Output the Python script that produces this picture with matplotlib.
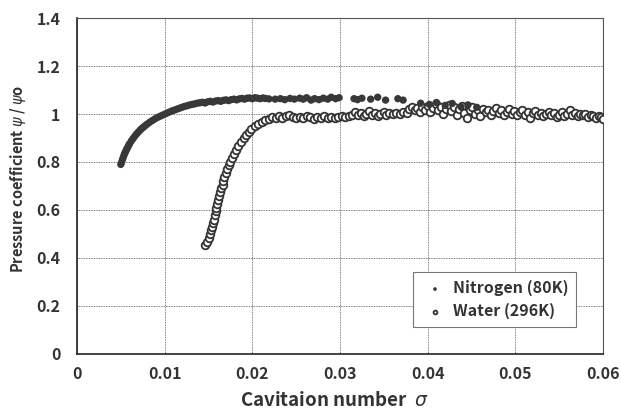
import matplotlib.pyplot as plt

plt.rcParams['font.family'] = ['Noto Sans CJK JP', 'DejaVu Sans']

# Nitrogen (80K) - filled markers
n2_sigma = [0.0050, 0.0051, 0.0052, 0.0053, 0.0054, 0.0055, 0.0056, 0.0057, 0.0058, 0.0059,
            0.0060, 0.0062, 0.0064, 0.0066, 0.0068, 0.0070, 0.0072, 0.0074, 0.0076, 0.0078,
            0.0080, 0.0083, 0.0086, 0.0089, 0.0092, 0.0095, 0.0098, 0.0101, 0.0104, 0.0107,
            0.0110, 0.0113, 0.0116, 0.0119, 0.0122, 0.0125, 0.0128, 0.0131, 0.0134, 0.0137,
            0.0140, 0.0143, 0.0146, 0.0149, 0.0152, 0.0155, 0.0158, 0.0161, 0.0164, 0.0167,
            0.0170, 0.0173, 0.0176, 0.0179, 0.0182, 0.0185, 0.0188, 0.0191, 0.0194, 0.0197,
            0.0200, 0.0203, 0.0206, 0.0209, 0.0212, 0.0215, 0.0219,
            0.0226, 0.0232, 0.0237, 0.0243, 0.0248, 0.0254, 0.0258, 0.0262, 0.0267, 0.0271,
            0.0276, 0.0281, 0.0286, 0.0290, 0.0295, 0.0299, 0.0316, 0.0320, 0.0325, 0.0335,
            0.0343, 0.0352, 0.0366, 0.0372, 0.0392, 0.0402, 0.0410, 0.0420, 0.0428, 0.0438,
            0.0446, 0.0456]
n2_psi = [0.790, 0.800, 0.812, 0.822, 0.832, 0.840, 0.848, 0.856, 0.862, 0.870,
          0.876, 0.888, 0.898, 0.908, 0.917, 0.925, 0.933, 0.940, 0.946, 0.952,
          0.958, 0.966, 0.973, 0.980, 0.986, 0.991, 0.996, 1.001, 1.006, 1.011,
          1.015, 1.019, 1.023, 1.027, 1.031, 1.034, 1.037, 1.040, 1.042, 1.045,
          1.047, 1.049, 1.046, 1.051, 1.053, 1.050, 1.054, 1.056, 1.053, 1.057,
          1.059, 1.056, 1.060, 1.062, 1.059, 1.063, 1.065, 1.062, 1.066, 1.067,
          1.064, 1.068, 1.066, 1.064, 1.067, 1.065, 1.063,
          1.062, 1.064, 1.060, 1.065, 1.062, 1.066, 1.062, 1.068, 1.058, 1.064,
          1.060, 1.066, 1.062, 1.070, 1.064, 1.068, 1.064, 1.060, 1.066, 1.062,
          1.070, 1.058, 1.064, 1.058, 1.045, 1.040, 1.048, 1.036, 1.044, 1.030,
          1.038, 1.028]

# Water (296K) - open markers
w_sigma = [0.0146, 0.0148, 0.0150, 0.0152, 0.0153, 0.0154, 0.0155, 0.0156, 0.0157, 0.0158,
           0.0159, 0.0160, 0.0161, 0.0162, 0.0163, 0.0164, 0.0166, 0.0167, 0.0168, 0.0170,
           0.0171, 0.0173, 0.0175, 0.0177, 0.0179, 0.0181, 0.0184, 0.0187, 0.0190, 0.0193,
           0.0196, 0.0199, 0.0203, 0.0207, 0.0211, 0.0215, 0.0219, 0.0223, 0.0227,
           0.0230, 0.0234, 0.0238, 0.0242, 0.0246, 0.0250, 0.0254, 0.0258, 0.0262, 0.0266,
           0.0270, 0.0274, 0.0278, 0.0282, 0.0286, 0.0290, 0.0294, 0.0298, 0.0302, 0.0306,
           0.0310, 0.0314, 0.0317, 0.0320, 0.0324, 0.0327, 0.0330, 0.0333, 0.0336, 0.0340,
           0.0343, 0.0346, 0.0350, 0.0353, 0.0356, 0.0360, 0.0364, 0.0368, 0.0372, 0.0376,
           0.0379, 0.0382, 0.0385, 0.0388, 0.0391, 0.0394, 0.0397, 0.0400, 0.0403, 0.0406,
           0.0409, 0.0412, 0.0415, 0.0418, 0.0421, 0.0424, 0.0427, 0.0430, 0.0433, 0.0436,
           0.0439, 0.0442, 0.0445, 0.0448, 0.0451, 0.0454, 0.0457, 0.0460, 0.0463, 0.0466,
           0.0469, 0.0472, 0.0475, 0.0478, 0.0481, 0.0484, 0.0487, 0.0490, 0.0493, 0.0496,
           0.0499, 0.0502, 0.0505, 0.0508, 0.0511, 0.0514, 0.0517, 0.0520, 0.0523, 0.0526,
           0.0529, 0.0532, 0.0535, 0.0538, 0.0541, 0.0544, 0.0547, 0.0550, 0.0553, 0.0556,
           0.0559, 0.0562, 0.0565, 0.0568, 0.0571, 0.0574, 0.0577, 0.0580, 0.0583, 0.0586,
           0.0589, 0.0592, 0.0595, 0.0598, 0.0600]
w_psi = [0.452, 0.468, 0.485, 0.500, 0.515, 0.530, 0.545, 0.560, 0.577, 0.594,
         0.610, 0.626, 0.642, 0.658, 0.674, 0.690, 0.706, 0.722, 0.738, 0.754,
         0.770, 0.786, 0.802, 0.818, 0.834, 0.850, 0.866, 0.882, 0.898, 0.912,
         0.925, 0.937, 0.948, 0.958, 0.966, 0.973, 0.980, 0.988, 0.982,
         0.992, 0.985, 0.990, 0.996, 0.987, 0.982, 0.989, 0.985, 0.992, 0.986,
         0.980, 0.988, 0.984, 0.991, 0.985, 0.989, 0.983, 0.988, 0.992, 0.986,
         0.992, 0.998, 1.010, 0.995, 1.004, 0.990, 1.000, 1.012, 0.996, 1.006,
         0.992, 1.002, 1.008, 0.998, 1.004, 1.000, 1.006, 1.002, 1.010, 1.004,
         1.020, 1.030, 1.015, 1.025, 1.008, 1.030, 1.018, 1.035, 1.010, 1.025,
         1.040, 1.015, 1.030, 1.000, 1.022, 1.038, 1.012, 1.028, 0.995, 1.020,
         1.032, 1.005, 0.985, 1.018, 1.028, 1.002, 1.015, 0.992, 1.022, 1.008,
         1.018, 0.998, 1.012, 1.024, 1.004, 1.016, 0.996, 1.010, 1.020, 1.000,
         1.012, 0.995, 1.008, 1.018, 0.998, 1.010, 0.985, 1.004, 1.012, 0.996,
         1.006, 0.990, 1.002, 1.010, 0.994, 1.004, 0.986, 0.998, 1.008, 0.992,
         1.002, 1.018, 0.996, 1.004, 0.990, 1.000, 0.994, 1.002, 0.988, 0.996,
         0.990, 0.984, 0.992, 0.986, 0.980]

x_ticks = [0, 0.01, 0.02, 0.03, 0.04, 0.05, 0.06]
y_ticks = [0, 0.2, 0.4, 0.6, 0.8, 1.0, 1.2, 1.4]
x_labels = ["0", "0.01", "0.02", "0.03", "0.04", "0.05", "0.06"]
y_labels = ["0", "0.2", "0.4", "0.6", "0.8", "1", "1.2", "1.4"]

ink = "#333333"

fig = plt.figure(figsize=(6.21, 4.11), dpi=100)
ax = fig.add_axes([0.124, 0.139, 0.847, 0.817])

ax.scatter(w_sigma, w_psi, s=30, facecolors="white", edgecolors="#333333",
           linewidths=1.3, label="Water (296K)", zorder=3)
ax.scatter(n2_sigma, n2_psi, s=28, color="#383838", edgecolors="none",
           label="Nitrogen (80K)", zorder=4)

ax.set_xlim(0, 0.06)
ax.set_ylim(0, 1.4)
ax.set_xticks(x_ticks)
ax.set_xticklabels(x_labels)
ax.set_yticks(y_ticks)
ax.set_yticklabels(y_labels)
ax.tick_params(length=0, labelsize=11.5, labelcolor=ink)
ax.tick_params(axis="x", pad=9)
ax.tick_params(axis="y", pad=12)
for lab in ax.get_xticklabels() + ax.get_yticklabels():
    lab.set_fontweight("bold")

ax.grid(True, color="#555555", linewidth=0.6, linestyle=(0, (1, 1)))
ax.set_axisbelow(True)
for side in ["top", "right"]:
    ax.spines[side].set_color("#555555")
    ax.spines[side].set_linewidth(0.8)
for side in ["left", "bottom"]:
    ax.spines[side].set_color("#222222")
    ax.spines[side].set_linewidth(1.2)

ax.set_xlabel(r"Cavitaion number  $\sigma$", fontsize=13.5, fontweight="bold",
              color=ink)
ax.xaxis.set_label_coords(0.49, -0.11)
ax.set_ylabel(r"Pressure coefficient $\psi$ / $\psi$o", fontsize=10.5,
              fontweight="bold", color=ink)
ax.yaxis.set_label_coords(-0.093, 0.52)

handles, labels = ax.get_legend_handles_labels()
leg = ax.legend(handles[::-1], labels[::-1], loc="lower right",
                bbox_to_anchor=(0.949, 0.08), borderaxespad=0, fancybox=False,
                edgecolor="#777777", framealpha=1, fontsize=11.5, markerscale=0.5,
                handletextpad=0.2, handlelength=1.8, borderpad=0.5, labelspacing=0.4)
leg.get_frame().set_linewidth(0.8)
for t in leg.get_texts():
    t.set_fontweight("bold")
    t.set_color(ink)

fig.savefig("out.png", dpi=100)
